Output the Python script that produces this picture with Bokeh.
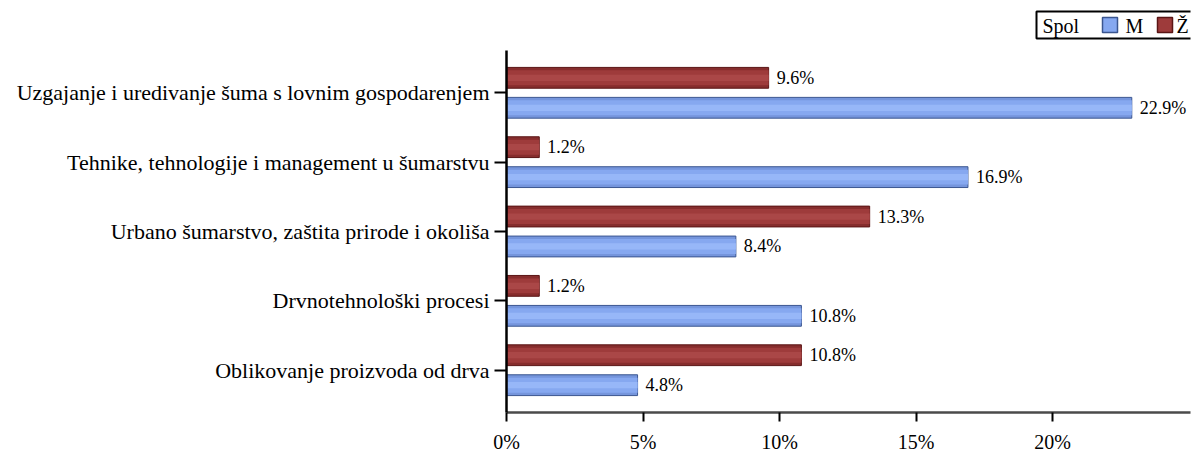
from bokeh.plotting import figure
from bokeh.layouts import column
from bokeh.models import (ColumnDataSource, FactorRange, Range1d, FixedTicker,
                          PrintfTickFormatter)
from bokeh.transform import dodge
from bokeh.core.properties import value
from bokeh.embed import file_html
from bokeh.resources import INLINE

categories = [
    "Uzgajanje i uredivanje šuma s lovnim gospodarenjem",
    "Tehnike, tehnologije i management u šumarstvu",
    "Urbano šumarstvo, zaštita prirode i okoliša",
    "Drvnotehnološki procesi",
    "Oblikovanje proizvoda od drva",
]
m_values = [22.9, 16.9, 8.4, 10.8, 4.8]
z_values = [9.6, 1.2, 13.3, 1.2, 10.8]
series_names = ["M", "Ž"]
legend_title = "Spol"
x_ticks = [0, 5, 10, 15, 20]

FONT = "'Liberation Serif', 'Times New Roman', serif"
BLUE = dict(edge="#3b5690", base="#7595dc", mid="#86a8f0", hi="#97b7f8")
RED = dict(edge="#5a1515", base="#862d2d", mid="#9e3b3b", hi="#aa4747")

src = ColumnDataSource(dict(
    cat=categories, m=m_values, z=z_values,
    m_lbl=[f"{v:.1f}%" for v in m_values],
    z_lbl=[f"{v:.1f}%" for v in z_values],
))

W, LH = 1193, 42
BL, BR = 506, 3

# ---------------- legend strip (frame aligned with main chart) ----------------
lg = figure(width=W, height=LH, output_backend="svg", toolbar_location=None,
            x_range=Range1d(BL, W - BR), y_range=Range1d(LH, 0),
            x_axis_location=None, y_axis_location=None,
            min_border_left=BL, min_border_right=BR, min_border_top=0, min_border_bottom=0)
lg.outline_line_color = None
lg.grid.grid_line_color = None
lg.quad(left=[1036], right=[1197], top=[11], bottom=[38], fill_color="white",
        line_color="black", line_width=2)
lg.text(x=[1042], y=[25], text=[legend_title], text_baseline="middle",
        text_font=value(FONT), text_font_size="20px", text_color="black")
sw_x = [1102, 1157]
lab_x = [1125, 1176]
for i, (name, col) in enumerate(zip(series_names, [BLUE, RED])):
    lg.quad(left=[sw_x[i]], right=[sw_x[i] + 15], top=[17], bottom=[32],
            fill_color=col["mid"], line_color=col["edge"], line_width=1.5)
    lg.text(x=[lab_x[i]], y=[25], text=[name], text_baseline="middle",
            text_font=value(FONT), text_font_size="20px", text_color="black")

# ---------------- main chart ----------------
p = figure(width=W, height=455 - LH, output_backend="svg", toolbar_location=None,
           y_range=FactorRange(factors=list(reversed(categories)), range_padding=0.044),
           x_range=Range1d(0, 25.05),
           min_border_left=BL, min_border_right=BR, min_border_top=8, min_border_bottom=42)
p.outline_line_color = None
p.grid.grid_line_color = None

off = 0.216
bh = 0.30
for key, sign, col in (("m", -1, BLUE), ("z", 1, RED)):
    yy = dodge("cat", sign * off, range=p.y_range)
    p.hbar(y=yy, right=key, left=0, height=bh, source=src,
           fill_color=col["base"], line_color=col["edge"], line_width=1)
    p.hbar(y=yy, right=key, left=0.04, height=bh * 0.72, source=src,
           fill_color=col["mid"], line_color=None)
    p.hbar(y=yy, right=key, left=0.04, height=bh * 0.3, source=src,
           fill_color=col["hi"], line_color=None)
    p.text(x=key, y=yy, text=key + "_lbl", source=src,
           x_offset=8, text_baseline="middle", text_font=value(FONT),
           text_font_size="18px", text_color="black")

p.xaxis.ticker = FixedTicker(ticks=x_ticks)
p.xaxis.formatter = PrintfTickFormatter(format="%d%%")
p.xaxis.axis_line_color = "#4a4a4a"
p.xaxis.axis_line_width = 2.5
p.xaxis.major_tick_line_color = "black"
p.xaxis.major_tick_line_width = 2
p.xaxis.major_tick_out = 9
p.xaxis.major_tick_in = 0
p.xaxis.minor_tick_line_color = None
p.xaxis.major_label_text_font = FONT
p.xaxis.major_label_text_font_size = "20px"
p.xaxis.major_label_text_color = "black"
p.xaxis.major_label_standoff = 9

p.yaxis.axis_line_color = "black"
p.yaxis.axis_line_width = 2.5
p.yaxis.major_tick_line_color = "black"
p.yaxis.major_tick_line_width = 2
p.yaxis.major_tick_out = 12
p.yaxis.major_tick_in = 0
p.yaxis.major_label_text_font = FONT
p.yaxis.major_label_text_font_size = "22px"
p.yaxis.major_label_text_color = "black"
p.yaxis.major_label_standoff = 5

layout = column(lg, p, spacing=0)
open("out.html", "w").write(file_html(layout, INLINE))
